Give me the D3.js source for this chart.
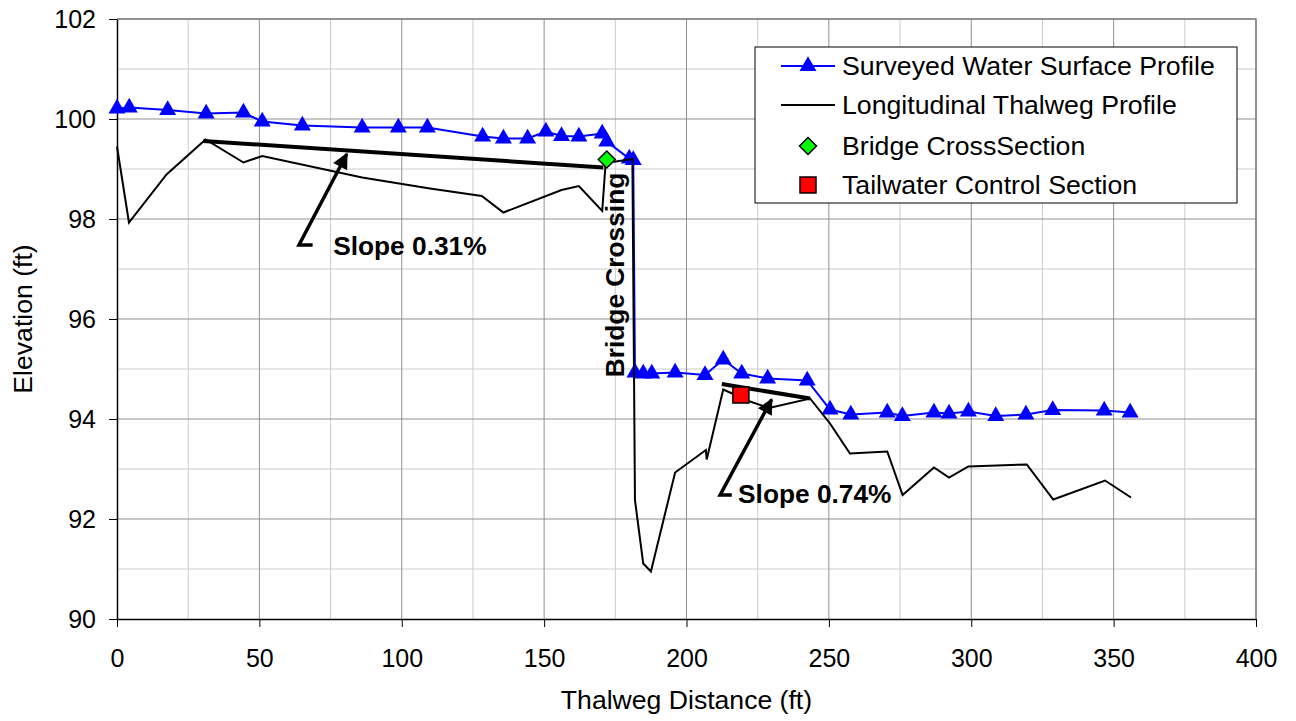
<!DOCTYPE html>
<html>
<head>
<meta charset="utf-8">
<title>Thalweg profile</title>
<script src="https://cdn.jsdelivr.net/npm/d3@7"></script>
<style>
    body { margin: 0; background: #ffffff; font-family: "Liberation Sans", Arial, sans-serif; }
    .tick text { font-size: 25px; fill: #000; }
    .axisTitle { font-size: 26.6px; }
    .legendLabel { font-size: 26.7px; }
    .note { font-size: 26.3px; font-weight: bold; }
</style>
</head>
<body>
<div id="chart"></div>
<script>
// surveyed water surface (distance ft, elevation ft)
var wsDist = [0, 4.3, 17.8, 31.3, 44.4, 51.0, 65.1, 86.1, 98.8, 109.0, 128.4, 135.7, 144.2, 150.6, 156.1,
              162.2, 170.4, 172.0, 179.9, 181.3, 181.9, 184.8, 187.8, 196.0, 206.5, 212.9, 219.4, 228.5,
              242.4, 250.4, 257.7, 270.5, 275.8, 286.9, 292.2, 299.0, 308.6, 319.2, 328.6, 346.7, 355.8];
var wsElev = [100.21, 100.23, 100.18, 100.11, 100.13, 99.95, 99.87, 99.83, 99.83, 99.83, 99.65, 99.61, 99.61, 99.75, 99.66,
              99.65, 99.71, 99.55, 99.21, 99.18, 94.93, 94.91, 94.91, 94.93, 94.88, 95.19, 94.91, 94.81,
              94.77, 94.19, 94.09, 94.13, 94.06, 94.13, 94.11, 94.15, 94.06, 94.09, 94.18, 94.17, 94.13];

// longitudinal thalweg
var thDist = [0, 4.2, 17.4, 31.1, 44.4, 51.0, 86.1, 109.9, 128.1, 135.7, 156.1, 162.2, 170.4, 171.6, 181.0,
              181.9, 184.8, 187.5, 196.0, 206.8, 207.1, 212.9, 222.3, 229.0, 243.4, 250.4, 257.4, 270.5,
              275.9, 286.9, 292.2, 299.0, 319.5, 328.8, 347.0, 356.1];
var thElev = [99.45, 97.93, 98.89, 99.59, 99.13, 99.26, 98.83, 98.61, 98.46, 98.13, 98.58, 98.66, 98.16, 99.12, 99.2,
              92.38, 91.11, 90.95, 92.93, 93.38, 93.19, 94.59, 94.35, 94.22, 94.41, 93.91, 93.31, 93.35,
              92.48, 93.03, 92.83, 93.05, 93.09, 92.39, 92.77, 92.43];

var bridgePt = [172.0, 99.19];
var tailwaterPt = [219.1, 94.48];

var legendNames = ['Surveyed Water Surface Profile', 'Longitudinal Thalweg Profile',
                   'Bridge CrossSection', 'Tailwater Control Section'];

// annotations: slope lines, arrows (stub end, tail, tip), labels
var slopeLines = [[[30.3, 99.56], [170.8, 99.03]], [[212.4, 94.70], [243.4, 94.41]]];
var arrows = [[[68.7, 97.48], [63.9, 97.48], [80.7, 99.30]],
              [[215.9, 92.48], [211.8, 92.48], [229.9, 94.39]]];
var slopeText = [['Slope 0.31%', 75.9, 97.28], ['Slope 0.74%', 218.1, 92.33]];
var bridgeText = ['Bridge Crossing', 174.9, 96.88];

var xTicks = d3.range(0, 401, 50), yTicks = d3.range(90, 103, 2);

var width = 1296, height = 721;

var svg = d3.select('#chart').append('svg')
            .attr('width', width).attr('height', height);

var x = d3.scaleLinear().domain([0, 400]).range([117, 1256]);
var y = d3.scaleLinear().domain([90, 102]).range([619, 19]);

// grid, minor first then major
var g = svg.append('g');
d3.range(25, 400, 50).forEach(function(v) {
    g.append('line').attr('x1', x(v)).attr('x2', x(v)).attr('y1', y(90)).attr('y2', y(102))
     .attr('stroke', '#cccccc');
});
d3.range(91, 102, 2).forEach(function(v) {
    g.append('line').attr('x1', x(0)).attr('x2', x(400)).attr('y1', y(v)).attr('y2', y(v))
     .attr('stroke', '#cccccc');
});
xTicks.slice(1).forEach(function(v) {
    g.append('line').attr('x1', x(v)).attr('x2', x(v)).attr('y1', y(90)).attr('y2', y(102))
     .attr('stroke', '#909090');
});
yTicks.slice(1).forEach(function(v) {
    g.append('line').attr('x1', x(0)).attr('x2', x(400)).attr('y1', y(v)).attr('y2', y(v))
     .attr('stroke', '#909090');
});

// axes
var xAxis = svg.append('g').attr('transform', 'translate(0,' + y(90) + ')')
    .call(d3.axisBottom(x).tickValues(xTicks).tickSize(8).tickPadding(22).tickSizeOuter(0));
var yAxis = svg.append('g').attr('transform', 'translate(' + x(0) + ',0)')
    .call(d3.axisLeft(y).tickValues(yTicks).tickSize(8).tickPadding(13).tickSizeOuter(0));
[xAxis, yAxis].forEach(function(a) {
    a.attr('font-family', null).attr('font-size', null);
    a.select('.domain').attr('stroke', '#000').attr('stroke-width', 1.5);
    a.selectAll('.tick line').attr('stroke', '#000');
});

svg.append('text').attr('class', 'axisTitle')
   .attr('x', (x(0) + x(400)) / 2).attr('y', 709).attr('text-anchor', 'middle')
   .text('Thalweg Distance (ft)');
svg.append('text').attr('class', 'axisTitle')
   .attr('transform', 'translate(32,' + ((y(90) + y(102)) / 2) + ') rotate(-90)')
   .attr('text-anchor', 'middle')
   .text('Elevation (ft)');

var line = d3.line().x(function(d) { return x(d[0]); }).y(function(d) { return y(d[1]); });
var tri = d3.symbol().type(d3.symbolTriangle).size(125);

// surveyed water surface
var ws = wsDist.map(function(d, i) { return [d, wsElev[i]]; });
svg.append('path').datum(ws).attr('d', line)
   .attr('fill', 'none').attr('stroke', '#0000ff').attr('stroke-width', 2);
svg.append('g').selectAll('path').data(ws).enter().append('path')
   .attr('d', tri)
   .attr('transform', function(d) { return 'translate(' + x(d[0]) + ',' + y(d[1]) + ')'; })
   .attr('fill', '#0000ff');

// thalweg
var th = thDist.map(function(d, i) { return [d, thElev[i]]; });
svg.append('path').datum(th).attr('d', line)
   .attr('fill', 'none').attr('stroke', '#000').attr('stroke-width', 2);

// slope lines
slopeLines.forEach(function(s) {
    svg.append('path').datum(s).attr('d', line)
       .attr('fill', 'none').attr('stroke', '#000').attr('stroke-width', 4);
});

// bridge + tailwater markers
svg.append('rect')
   .attr('x', -6).attr('y', -6).attr('width', 12).attr('height', 12)
   .attr('transform', 'translate(' + x(bridgePt[0]) + ',' + y(bridgePt[1]) + ') rotate(45)')
   .attr('fill', '#00ff00').attr('stroke', '#000').attr('stroke-width', 1.5);
svg.append('rect')
   .attr('x', x(tailwaterPt[0]) - 8).attr('y', y(tailwaterPt[1]) - 8)
   .attr('width', 16).attr('height', 16)
   .attr('fill', '#ff0000').attr('stroke', '#000').attr('stroke-width', 1.5);

// arrows
svg.append('defs').append('marker').attr('id', 'head')
    .attr('viewBox', '0 0 10 10').attr('refX', 9).attr('refY', 5)
    .attr('markerWidth', 5).attr('markerHeight', 4.5).attr('orient', 'auto')
    .attr('markerUnits', 'strokeWidth')
    .append('path').attr('d', 'M0,0L10,5L0,10Z').attr('fill', '#000');
arrows.forEach(function(a) {
    svg.append('path').datum(a).attr('d', line)
       .attr('fill', 'none').attr('stroke', '#000').attr('stroke-width', 3.5)
       .attr('marker-end', 'url(#head)');
});

slopeText.forEach(function(t) {
    svg.append('text').attr('class', 'note')
       .attr('x', x(t[1])).attr('y', y(t[2])).text(t[0]);
});
svg.append('text').attr('class', 'note')
   .attr('transform', 'translate(' + x(bridgeText[1]) + ',' + y(bridgeText[2]) + ') rotate(-90)')
   .attr('text-anchor', 'middle').attr('dominant-baseline', 'central')
   .text(bridgeText[0]);

// top/right frame
svg.append('path')
   .attr('d', 'M' + x(0) + ',' + y(102) + 'H' + x(400) + 'V' + y(90))
   .attr('fill', 'none').attr('stroke', '#808080').attr('stroke-width', 1.5);

// legend
var lg = svg.append('g').attr('transform', 'translate(755,47)');
lg.append('rect').attr('width', 482).attr('height', 156)
  .attr('fill', '#fff').attr('stroke', '#000').attr('stroke-width', 1);
var rowY = [19, 58, 99, 138];
lg.append('line').attr('x1', 26).attr('x2', 80).attr('y1', rowY[0]).attr('y2', rowY[0])
  .attr('stroke', '#0000ff').attr('stroke-width', 2);
lg.append('path').attr('d', tri).attr('transform', 'translate(53,' + rowY[0] + ')').attr('fill', '#0000ff');
lg.append('line').attr('x1', 26).attr('x2', 80).attr('y1', rowY[1]).attr('y2', rowY[1])
  .attr('stroke', '#000').attr('stroke-width', 2);
lg.append('rect').attr('x', -6).attr('y', -6).attr('width', 12).attr('height', 12)
  .attr('transform', 'translate(53,' + rowY[2] + ') rotate(45)')
  .attr('fill', '#00ff00').attr('stroke', '#000').attr('stroke-width', 1.5);
lg.append('rect').attr('x', 45).attr('y', rowY[3] - 8).attr('width', 16).attr('height', 16)
  .attr('fill', '#ff0000').attr('stroke', '#000').attr('stroke-width', 1.5);
lg.selectAll('.legendLabel').data(legendNames).enter().append('text')
  .attr('class', 'legendLabel')
  .attr('x', 87).attr('y', function(d, i) { return rowY[i]; })
  .attr('dominant-baseline', 'central')
  .text(function(d) { return d; });
</script>
</body>
</html>
